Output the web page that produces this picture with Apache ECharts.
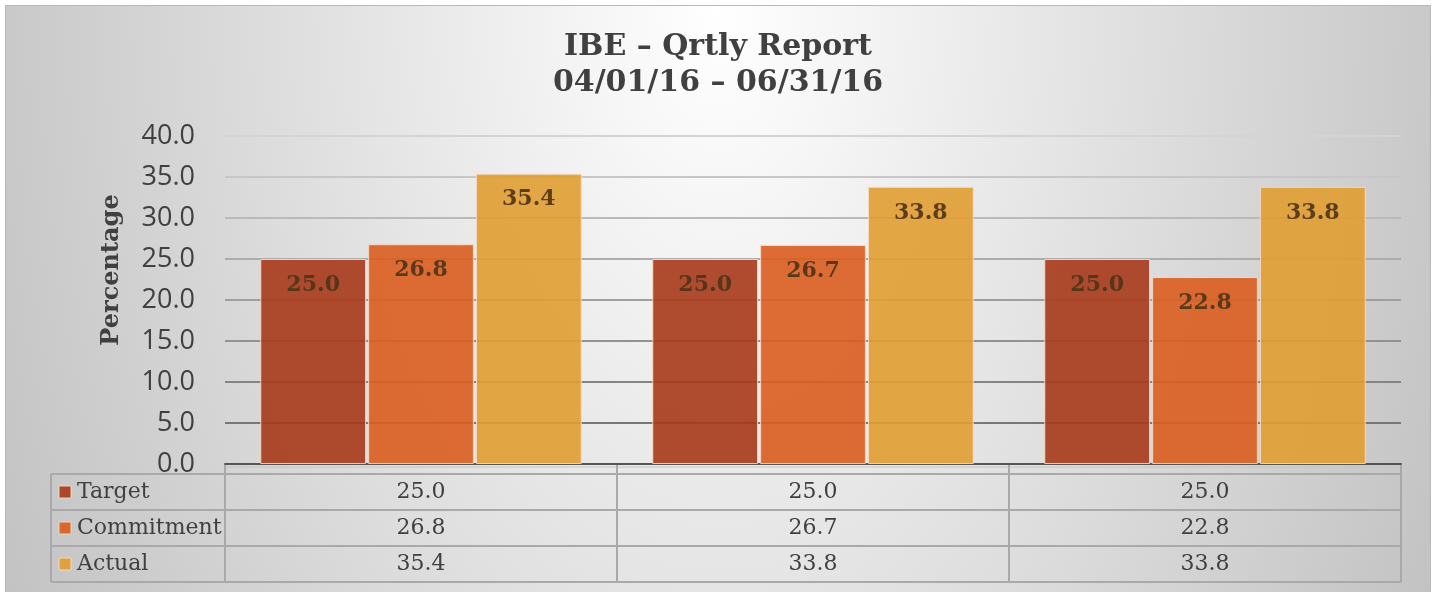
<!DOCTYPE html>
<html>
<head>
<meta charset="utf-8">
<title>IBE Qrtly Report</title>
<script src="https://cdn.jsdelivr.net/npm/echarts@6/dist/echarts.min.js"></script>
<style>
  html, body { margin: 0; padding: 0; background: #fff; overflow: hidden; }
  #chart {
    position: absolute; left: 5px; top: 5px; width: 1424px; height: 590px;
    border: 1px solid #b8b8b8;
    background: radial-gradient(ellipse 830px 1400px at 50% 0%, #ffffff 0%, #c0c0c0 100%);
  }
</style>
</head>
<body>
<div id="chart"></div>
<script>
// data
var categories = ['1', '2', '3'];
var seriesNames = ['Target', 'Commitment', 'Actual'];
var target = [25.0, 25.0, 25.0];
var commitment = [26.8, 26.7, 22.8];
var actual = [35.4, 33.8, 33.8];
var yMin = 0, yMax = 40, yStep = 5;
var titleLines = ['IBE \u2013 Qrtly Report', '04/01/16 \u2013 06/31/16'];
var axisName = 'Percentage';

var seriesData = [target, commitment, actual];
var colors = ['#a73919', '#d95d1e', '#e19d31'];
var serif = '"DejaVu Serif", "Liberation Serif", serif';

// layout of plot + data table (px inside the chart box)
var gridL = 219, gridT = 130, gridW = 1176, gridH = 328;
var gridR = gridL + gridW, axisY = gridT + gridH;
var rowTop = 468, rowH = 36, colL = 45;

var chart = echarts.init(document.getElementById('chart'));

var option = {
    animation: false,
    title: {
        text: titleLines.join('\n'),
        left: 'center',
        top: 18,
        textStyle: { fontFamily: serif, fontWeight: 'bold', fontSize: 30, lineHeight: 36, color: '#404040' }
    },
    grid: { left: gridL, top: gridT, width: gridW, height: gridH },
    xAxis: {
        type: 'category',
        data: categories,
        axisLine: { lineStyle: { color: '#555555', width: 2 } },
        axisTick: { show: false },
        axisLabel: { show: false }
    },
    yAxis: {
        type: 'value',
        min: yMin, max: yMax, interval: yStep,
        axisLine: { show: false },
        axisTick: { show: false },
        axisLabel: {
            margin: 30,
            fontFamily: '"Open Sans", "Noto Sans", sans-serif',
            fontSize: 27,
            color: '#404040',
            formatter: function (v) { return v.toFixed(1); }
        },
        splitLine: {
            lineStyle: {
                width: 2,
                color: {
                    type: 'linear', x: 0, y: gridT, x2: 0, y2: axisY, global: true,
                    colorStops: [{ offset: 0, color: '#d4d4d4' }, { offset: 1, color: '#6a6a6a' }]
                }
            }
        }
    },
    series: seriesNames.map(function (name, i) {
        return {
            name: name,
            type: 'bar',
            data: seriesData[i],
            barGap: '2%',
            barCategoryGap: '18%',
            itemStyle: { color: colors[i], opacity: 0.9, borderColor: '#f6dcc4', borderWidth: 1 },
            label: {
                show: true,
                position: 'insideTop',
                distance: 15,
                fontFamily: serif,
                fontWeight: 'bold',
                fontSize: 22,
                color: '#4e3318',
                formatter: function (p) { return p.value.toFixed(1); }
            }
        };
    })
};
chart.setOption(option);

// data table under the plot, built from the same arrays
var els = [];
var lineStyle = { stroke: '#a9a9a9', lineWidth: 2 };
var colW = gridW / categories.length;
els.push({ type: 'line', shape: { x1: gridL, y1: axisY + 3, x2: gridR, y2: axisY + 3 }, style: { stroke: '#c4c4c4', lineWidth: 1 } });
for (var r = 0; r <= seriesNames.length; r++) {
    var y = rowTop + r * rowH;
    els.push({ type: 'line', shape: { x1: colL, y1: y, x2: gridR, y2: y }, style: lineStyle });
}
var tableBottom = rowTop + seriesNames.length * rowH;
els.push({ type: 'line', shape: { x1: colL, y1: rowTop, x2: colL, y2: tableBottom }, style: lineStyle });
for (var c = 0; c <= categories.length; c++) {
    var x = gridL + c * colW;
    els.push({ type: 'line', shape: { x1: x, y1: axisY + 1, x2: x, y2: tableBottom }, style: lineStyle });
}
seriesNames.forEach(function (name, i) {
    var cy = rowTop + rowH * (i + 0.5);
    els.push({ type: 'rect', shape: { x: 53, y: cy - 6, width: 12, height: 12 },
        style: { fill: colors[i], opacity: 0.9, stroke: '#f6dcc4', lineWidth: 1 } });
    els.push({ type: 'text', x: 71, y: cy,
        style: { text: name, fontFamily: serif, fontSize: 22, fill: '#404040', align: 'left', verticalAlign: 'middle' } });
    categories.forEach(function (cat, j) {
        var px = chart.convertToPixel({ xAxisIndex: 0 }, cat);
        els.push({ type: 'text', x: px, y: cy,
            style: { text: seriesData[i][j].toFixed(1), fontFamily: serif, fontSize: 22, fill: '#404040', align: 'center', verticalAlign: 'middle' } });
    });
});
// rotated axis title
els.push({ type: 'text', x: 106, y: 264, rotation: Math.PI / 2,
    style: { text: axisName, fontFamily: serif, fontWeight: 'bold', fontSize: 24, fill: '#404040', align: 'center', verticalAlign: 'middle' } });

chart.setOption({ graphic: { elements: els } });
</script>
</body>
</html>
